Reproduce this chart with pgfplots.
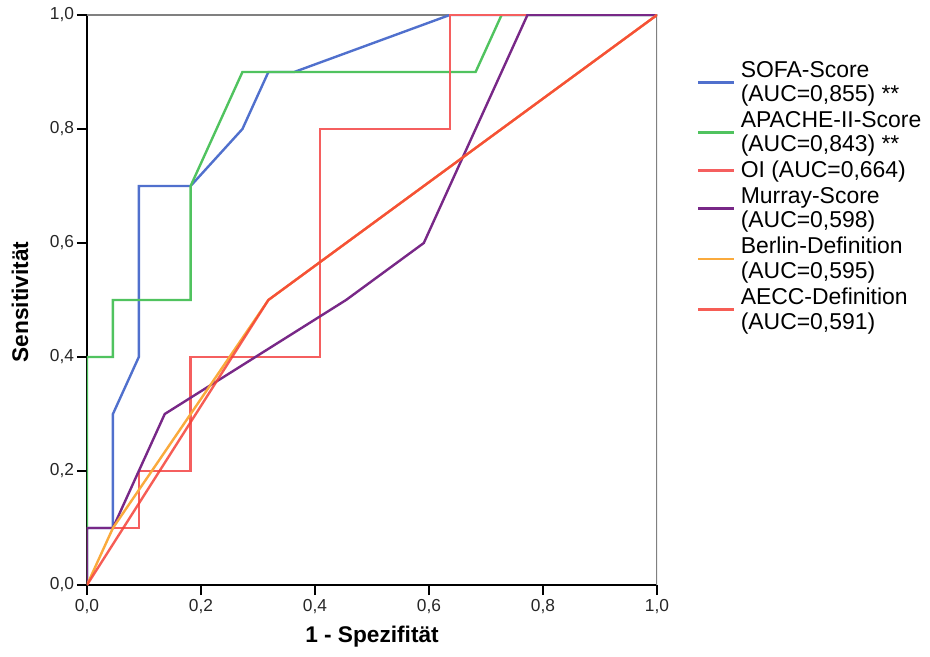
\documentclass[border=0pt]{standalone}
\usepackage{fontspec}
\setmainfont{Liberation Sans}
\usepackage{pgfplots}
\pgfplotsset{compat=1.18}
\definecolor{sofa}{RGB}{80,112,205}
\definecolor{apache}{RGB}{80,195,95}
\definecolor{oi}{RGB}{245,95,95}
\definecolor{murray}{RGB}{120,40,135}
\definecolor{berlin}{RGB}{250,170,60}
\definecolor{aecc}{RGB}{245,65,55}

\begin{document}
\begin{tikzpicture}
\useasboundingbox (-65.25pt,-53.25pt) rectangle (632.25pt,438.75pt);
\begin{axis}[
  at={(0pt,0pt)}, anchor=south west,
  scale only axis, width=427.5pt, height=427.5pt,
  xmin=0, xmax=1, ymin=0, ymax=1,
  axis lines*=left,
  axis line style={black, line width=1.1pt},
  xtick={0,0.2,0.4,0.6,0.8,1}, ytick={0,0.2,0.4,0.6,0.8,1},
  tick align=outside, major tick length=7.5pt,
  tick style={black, line width=1.1pt},
  ticklabel style={font=\fontsize{13}{15}\selectfont, text=black!85},
  xticklabel style={inner sep=3pt},
  yticklabel style={inner sep=2pt},
  /pgf/number format/.cd, assume math mode=true, use comma, fixed, fixed zerofill, precision=1,
  /pgfplots/.cd,
  xlabel={1 - Spezifität}, ylabel={Sensitivität},
  xlabel style={font=\bfseries\fontsize{17}{20}\selectfont, at={(axis description cs:0.5,-0.091)}, anchor=center},
  ylabel style={font=\bfseries\fontsize{17}{20}\selectfont, at={(axis description cs:-0.1175,0.4965)}, anchor=center},
  no markers,
  roc/.style={line width=1.8pt},
  legend cell align=left,
  legend style={draw=none, fill=none, at={(1.0702,0.9237)}, anchor=north west,
    inner sep=0pt, outer sep=0pt, row sep=1.4pt, column sep=2pt,
    font=\fontsize{17.2}{18.6}\selectfont,
    cells={inner sep=0pt, align=left, anchor=west}},
  legend image code/.code={\draw[#1] (0pt,0pt) -- (27pt,0pt);},
]
\draw[black!50, line width=1.8pt] (rel axis cs:0,1) -- (rel axis cs:1,1) -- (rel axis cs:1,0);

\addplot[sofa, roc] coordinates {(0,0)(0,0.1)(0.0455,0.1)(0.0455,0.3)(0.0909,0.4)(0.0909,0.7)(0.1818,0.7)(0.2727,0.8)(0.3182,0.9)(0.3636,0.9)(0.6364,1)(1,1)};
\addlegendentry{SOFA-Score\\(AUC=0,855) **}

\addplot[apache, roc] coordinates {(0,0)(0,0.4)(0.0455,0.4)(0.0455,0.5)(0.1818,0.5)(0.1818,0.7)(0.2727,0.9)(0.6818,0.9)(0.7273,1)(1,1)};
\addlegendentry{APACHE-II-Score\\(AUC=0,843) **}

\addplot[oi, roc] coordinates {(0,0)(0,0.1)(0.0909,0.1)(0.0909,0.2)(0.1818,0.2)(0.1818,0.4)(0.4091,0.4)(0.4091,0.8)(0.6364,0.8)(0.6364,1)(1,1)};
\addlegendentry{OI (AUC=0,664)}

\addplot[murray, roc] coordinates {(0,0)(0,0.1)(0.0455,0.1)(0.0909,0.2)(0.1364,0.3)(0.4545,0.5)(0.5909,0.6)(0.7727,1)(1,1)};
\addlegendentry{Murray-Score\\(AUC=0,598)}

\addplot[berlin, roc] coordinates {(0,0)(0.0455,0.1)(0.3182,0.5)(1,1)};
\addlegendentry{Berlin-Definition\\(AUC=0,595)}

\addplot[aecc, roc, opacity=0.85] coordinates {(0,0)(0.3182,0.5)(1,1)};
\addlegendentry{AECC-Definition\\(AUC=0,591)}
\end{axis}
\end{tikzpicture}
\end{document}
